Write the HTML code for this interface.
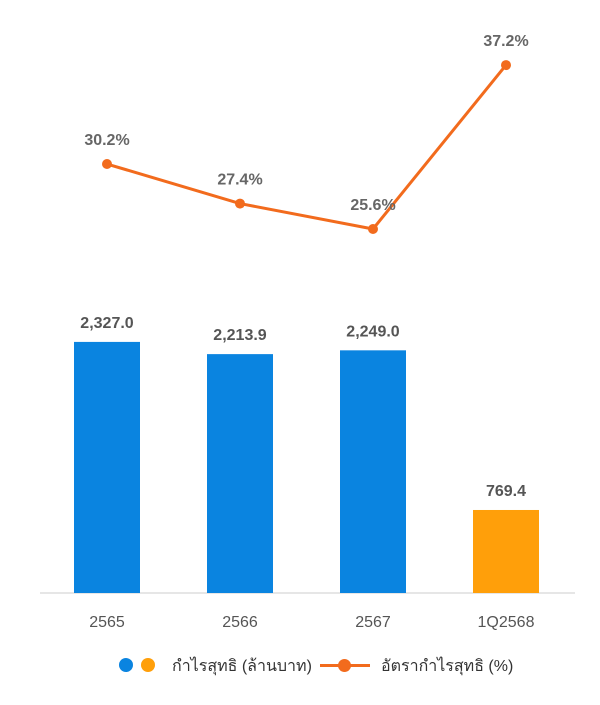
<!DOCTYPE html>
<html><head><meta charset="utf-8"><style>
body{margin:0;background:#fff;width:600px;height:700px;overflow:hidden;font-family:"Liberation Sans","DejaVu Sans",sans-serif}
</style></head><body>
<svg width="600" height="700" id="chart"></svg>
<script>
const categories=["2565","2566","2567","1Q2568"];
const profitValues=[2327.0,2213.9,2249.0,769.4];
const profitLabels=["2,327.0","2,213.9","2,249.0","769.4"];
const marginValues=[30.2,27.4,25.6,37.2];
const marginLabels=["30.2%","27.4%","25.6%","37.2%"];
const barColors=["#0a84e0","#0a84e0","#0a84e0","#ff9f0a"];
const NS="http://www.w3.org/2000/svg";
const svg=document.getElementById('chart');
function mk(t,a,txt){const e=document.createElementNS(NS,t);for(const k in a)e.setAttribute(k,a[k]);if(txt!=null)e.textContent=txt;svg.appendChild(e);return e;}
const xC=i=>107+i*133;
const baseY=593;
const yBar=v=>baseY-v*0.1079;
const yLine=v=>229-(v-25.6)*14.13;
let ax=mk('line',{x1:40,x2:575,y1:baseY,y2:baseY,stroke:'#ccc','stroke-width':1});


profitValues.forEach((v,i)=>{
 const r=mk('rect',{x:xC(i)-33,y:yBar(v),width:66,height:baseY-yBar(v),fill:barColors[i]});
 
 
 const t=mk('text',{x:xC(i),y:yBar(v)-14,'text-anchor':'middle','font-size':16,'font-weight':'bold',fill:'#555'},profitLabels[i]);
 
 
 const xl=mk('text',{x:xC(i),y:627,'text-anchor':'middle','font-size':16,fill:'#555'},categories[i]);
 
 
});
const pl=mk('polyline',{points:marginValues.map((v,i)=>xC(i)+','+yLine(v)).join(' '),fill:'none',stroke:'#f26b1d','stroke-width':3,'stroke-linejoin':'round'});


marginValues.forEach((v,i)=>{
 const c=mk('circle',{cx:xC(i),cy:yLine(v),r:5,fill:'#f26b1d'});
 
 
 const t=mk('text',{x:xC(i),y:yLine(v)-19,'text-anchor':'middle','font-size':16,'font-weight':'bold',fill:'#666'},marginLabels[i]);
 
 
});
</script>
<div style="position:absolute;left:0;top:652px;width:600px;height:26px;font-size:16px;color:#333">
 <span style="position:absolute;left:119px;top:6px;width:14px;height:14px;border-radius:50%;background:#0a84e0"></span>
 <span style="position:absolute;left:141px;top:6px;width:14px;height:14px;border-radius:50%;background:#ff9f0a"></span>
 <span style="position:absolute;left:172px;top:2px;white-space:nowrap">กำไรสุทธิ (ล้านบาท)</span>
 <span style="position:absolute;left:320px;top:12px;width:50px;height:3px;background:#f26b1d"></span>
 <span style="position:absolute;left:338px;top:7px;width:13px;height:13px;border-radius:50%;background:#f26b1d"></span>
 <span style="position:absolute;left:381px;top:2px;white-space:nowrap">อัตรากำไรสุทธิ (%)</span>
</div>
</body></html>
